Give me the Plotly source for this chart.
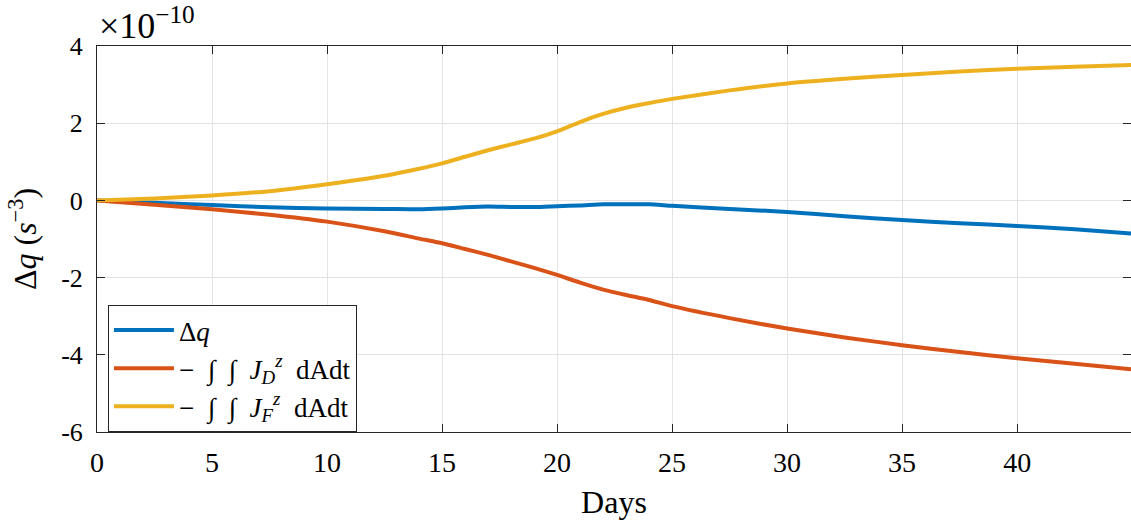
import plotly.graph_objects as go

# Data (values in units of 1e-10 s^-3)
days = [0, 2.5, 5, 7.5, 10, 12.5, 14, 15, 16, 17, 18, 19, 20, 21, 22, 23, 24, 25,
        27.5, 30, 32.5, 35, 37.5, 40, 42.5, 45]
dq = [0, -0.06, -0.12, -0.18, -0.21, -0.22, -0.23, -0.21, -0.18, -0.16, -0.17, -0.17,
      -0.15, -0.13, -0.10, -0.10, -0.10, -0.14, -0.22, -0.30, -0.41, -0.51, -0.59,
      -0.66, -0.75, -0.86]
jd = [0, -0.11, -0.23, -0.37, -0.55, -0.80, -0.99, -1.11, -1.26, -1.41, -1.58, -1.75,
      -1.93, -2.13, -2.31, -2.45, -2.58, -2.74, -3.05, -3.32, -3.55, -3.75, -3.93,
      -4.09, -4.23, -4.38]
jf = [0, 0.05, 0.13, 0.24, 0.42, 0.64, 0.82, 0.96, 1.13, 1.30, 1.45, 1.60, 1.79, 2.03,
      2.24, 2.40, 2.52, 2.63, 2.85, 3.03, 3.15, 3.25, 3.34, 3.41, 3.46, 3.51]

S = "\u00a0"
series_names = ["Δ<i>q</i>",
                f"−{S}{S}∫{S}{S}∫{S}{S}<i>J</i><sub><i>D</i></sub><sup><i>z</i></sup>{S}{S}dAdt",
                f"−{S}{S}∫{S}{S}∫{S}{S}<i>J</i><sub><i>F</i></sub><sup><i>z</i></sup>{S}{S}dAdt"]
colors = ["#0072BD", "#D95319", "#EDB120"]

xticks = [0, 5, 10, 15, 20, 25, 30, 35, 40]
yticks = [-6, -4, -2, 0, 2, 4]
ytick_labels = ["-6", "-4", "-2", "0", "2", "4"]

FONT = "Liberation Serif"
AX = "#262626"

fig = go.Figure()
for name, vals, c in zip(series_names, [dq, jd, jf], colors):
    fig.add_trace(go.Scatter(x=days, y=vals, mode="lines", name=name,
                             line=dict(color=c, width=4, shape="spline", smoothing=0.6)))

fig.update_layout(
    width=1131, height=520,
    margin=dict(l=97, r=0, t=46, b=88),
    paper_bgcolor="white", plot_bgcolor="white",
    font=dict(family=FONT, size=28, color="black"),
    showlegend=True,
    legend=dict(x=0.0106, y=0.329, xanchor="left", yanchor="top",
                bgcolor="white", bordercolor=AX, borderwidth=1,
                font=dict(family=FONT, size=27), tracegroupgap=0,
                itemwidth=60),
    xaxis=dict(range=[0, 44.95], tickvals=xticks, showgrid=True, gridcolor="#e3e3e3",
               gridwidth=1, showline=True, linecolor=AX, linewidth=1, mirror="ticks",
               ticks="inside", ticklen=8, tickcolor=AX, zeroline=False,
               ticklabelstandoff=5,
               tickfont=dict(family=FONT, size=28),
               title=dict(text="Days", font=dict(family=FONT, size=32), standoff=14)),
    yaxis=dict(range=[-6, 4], tickvals=yticks, ticktext=ytick_labels, showgrid=True,
               gridcolor="#e3e3e3", gridwidth=1, showline=True, linecolor=AX,
               linewidth=1, mirror="ticks", ticks="inside", ticklen=8, tickcolor=AX,
               zeroline=False, ticklabelstandoff=8, tickfont=dict(family=FONT, size=26),
               title=dict(text="Δ<i>q</i> (<i>s</i><sup>−3</sup>)",
                          font=dict(family=FONT, size=32), standoff=14)),
)

fig.add_annotation(xref="paper", yref="paper", x=0.0, y=1.0, xanchor="left",
                   yanchor="bottom", yshift=-2, showarrow=False,
                   text="×10<sup>−10</sup>", font=dict(family=FONT, size=36))

fig.write_html("out.html", config={"displayModeBar": False},
               post_script="document.body.style.margin='0';document.body.style.overflow='hidden';")
